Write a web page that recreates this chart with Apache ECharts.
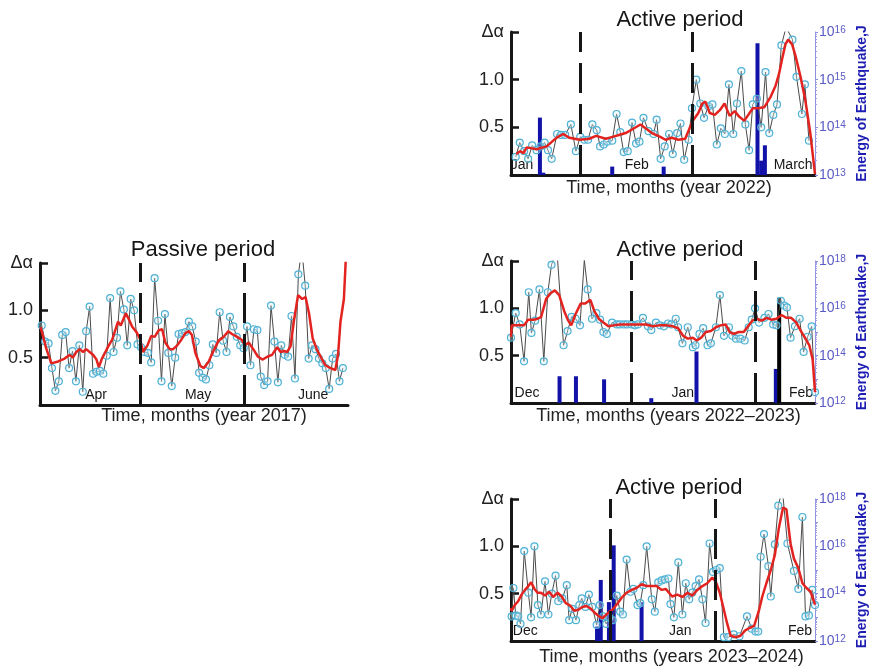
<!DOCTYPE html>
<html>
<head>
<meta charset="utf-8">
<title>Δα – passive and active periods</title>
<script src="https://cdn.jsdelivr.net/npm/echarts@6.0.0/dist/echarts.min.js"></script>
<style>
  html, body { margin: 0; padding: 0; background: #fff; }
  #chart { width: 870px; height: 668px; }
</style>
</head>
<body>
<div id="chart"></div>
<script>
// values; x is in days from the left edge of each panel

// passive period, 2017 (one point per day)
const passiveGray = [0.84,0.67,0.65,0.39,0.15,0.25,0.74,0.77,0.39,0.57,0.25,0.63,0.14,0.78,1.04,0.33,0.35,0.36,0.33,0.52,
  1.13,0.56,0.71,1.20,1.01,0.63,1.12,1.00,0.64,0.61,0.56,0.55,0.45,1.34,0.89,0.25,0.96,0.55,0.20,0.50,
  0.75,0.76,0.77,0.88,0.83,0.67,0.34,0.29,0.27,0.42,0.64,0.55,0.98,0.68,0.56,0.93,0.83,0.72,0.63,0.60,
  0.83,0.42,0.80,0.79,0.30,0.21,0.25,1.05,0.67,0.24,0.63,0.53,0.51,0.94,0.28,1.38,1.65,1.26,0.49,0.63,
  0.59,0.49,0.44,0.39,0.17,0.49,0.54,0.25,0.39];
const passiveRed = [[0.2,0.82],[1.8,0.60],[3.3,0.44],[5.3,0.46],[7.2,0.49],[8.7,0.53],[9.6,0.50],[10.6,0.56],[11.6,0.59],
  [12.6,0.56],[13.5,0.59],[14.5,0.56],[15.5,0.53],[16.5,0.48],[17.2,0.40],[18.1,0.49],[19.1,0.56],[20.1,0.63],
  [21.1,0.69],[22,0.79],[22.8,0.88],[23.6,0.84],[24.4,0.91],[25.1,0.97],[25.9,0.91],[26.9,0.83],[28.2,0.77],
  [29.2,0.70],[30.1,0.56],[31.4,0.63],[32.5,0.73],[33.5,0.72],[34.7,0.79],[35.7,0.80],[36.6,0.66],[37.9,0.59],
  [38.9,0.59],[40.1,0.63],[41.3,0.69],[42.5,0.76],[43.5,0.78],[44.4,0.74],[45.4,0.55],[46.9,0.41],[47.9,0.39],
  [49.3,0.46],[50.8,0.58],[52.2,0.68],[53.7,0.72],[55,0.78],[56.1,0.75],[57.6,0.72],[58.9,0.69],[59.9,0.63],
  [61,0.66],[62.5,0.58],[63.7,0.51],[65.1,0.48],[66.4,0.51],[67.8,0.53],[69.3,0.61],[70.3,0.56],[71.3,0.57],
  [72.2,0.56],[73.2,0.62],[74.2,0.89],[75.4,1.16],[76.6,1.12],[77.6,1.14],[78.6,0.97],[79.7,0.70],[81,0.58],
  [82.3,0.49],[83.4,0.42],[84.9,0.39],[86.3,0.37],[87.1,0.53],[87.8,0.88],[88.8,1.12],[89.5,1.65]];
const passiveBounds = [29.2, 59.7];
const passiveMonths = ['Apr', 'May', 'June'];
const passiveMonthDays = [16.4, 46.2, 79.8];

// active period, 2022
const act22Gray = [[1.4,0.19],[2.6,0.34],[3.9,0.25],[5.1,0.17],[6.3,0.31],[7.6,0.26],[8.8,0.30],[10,0.34],[11,0.26],
  [12.1,0.17],[13.7,0.43],[14.9,0.42],[16.1,0.42],[17.8,0.53],[19.3,0.25],[20.6,0.40],[21.8,0.37],[22.9,0.37],
  [24.2,0.53],[25.5,0.47],[26.5,0.30],[27.6,0.32],[28.6,0.35],[30.1,0.36],[31.4,0.64],[32.5,0.45],[33.5,0.24],
  [34.7,0.25],[36,0.55],[37.2,0.33],[38.2,0.35],[39.4,0.60],[40.9,0.46],[42.4,0.43],[43.3,0.58],[44.5,0.17],
  [45.7,0.30],[47,0.43],[48.1,0.22],[49.4,0.44],[50.4,0.54],[51.5,0.16],[52.8,0.37],[53.8,0.70],[55.1,1.0],
  [56.3,0.75],[57.4,0.60],[58.7,0.72],[59.9,0.74],[61.2,0.32],[62.4,0.49],[63.6,0.43],[64.8,0.95],[66.1,0.43],
  [67.2,0.75],[68.5,1.09],[69.7,0.53],[70.8,0.26],[71.9,0.74],[73.1,0.80],[74.4,0.50],[75.7,1.08],[76.8,0.44],
  [78,0.63],[79.1,0.74],[80.4,1.36],[81.8,1.55],[83.7,1.42],[84.9,1.03],[86.5,0.64],[87.4,0.95],[88.6,0.36]];
const act22Red = [[1.6,0.22],[2.7,0.25],[3.7,0.23],[4.7,0.29],[7.6,0.27],[10.6,0.30],[13.5,0.39],[15.5,0.43],[17.4,0.39],
  [20.4,0.37],[23.3,0.38],[25.3,0.41],[28.2,0.38],[30.2,0.40],[32.1,0.42],[34.1,0.44],[36.1,0.48],[38.5,0.53],
  [40,0.49],[41.9,0.44],[44.4,0.40],[45.9,0.37],[47.8,0.39],[49.8,0.37],[51.8,0.38],[53.9,0.56],[55.7,0.65],
  [56.9,0.75],[57.8,0.77],[59.1,0.65],[60.6,0.63],[62.1,0.68],[63.5,0.75],[65,0.62],[66.5,0.67],[67.9,0.61],
  [69.4,0.57],[71.9,0.70],[73.3,0.70],[75.3,0.71],[77.2,0.82],[78.7,0.94],[79.7,1.06],[80.7,1.23],[81.6,1.37],
  [82.4,1.42],[83.6,1.37],[84.6,1.25],[86.1,1.03],[87.5,0.79],[89,0.44],[90.4,0.01]];
const act22Quakes = [[8.6,1.6e14],[9.6,1.12e13],[30.1,1.5e13],[45.4,1.5e13],[73.3,5.8e15],[74.4,2e13],[75.5,4.2e13]];
const act22Bounds = [20.6, 54];
const act22Months = ['Jan', 'Feb', 'March'];
const act22MonthDays = [3.3, 37.4, 83.9];

// active period, 2022-2023
const act23Gray = [[0,0.69],[1.4,0.95],[2.6,0.83],[3.9,0.44],[5.3,1.17],[6.1,0.74],[7.2,0.87],[8.5,1.20],[9.8,0.44],
  [11,1.17],[12.1,1.46],[13.7,1.62],[15.7,0.61],[16.9,0.76],[18.1,0.91],[19.3,0.89],[20.6,0.82],[21.9,1.51],
  [22.9,1.20],[24.2,0.89],[25.5,0.95],[26.6,0.88],[27.6,0.75],[28.6,0.73],[30.2,0.85],[31.6,0.83],[32.5,0.83],
  [33.7,0.83],[34.7,0.83],[36,0.83],[37,0.82],[37.9,0.83],[39.4,0.90],[40.9,0.81],[41.9,0.77],[43.3,0.85],
  [44.5,0.82],[45.7,0.81],[46.9,0.84],[47.9,0.83],[49.2,0.89],[49.9,0.80],[51.2,0.63],[52.8,0.80],[54.3,0.59],
  [55.1,0.61],[56.3,0.73],[57.4,0.79],[58.7,0.61],[59.7,0.63],[61.2,0.80],[62.4,1.14],[63.6,0.71],[65.1,0.80],
  [66.1,0.71],[67.2,0.68],[68.5,0.68],[69.8,0.66],[71,0.80],[71.9,0.88],[72.9,1.0],[74.1,0.85],[75.7,0.90],
  [76.9,0.94],[78.3,0.83],[79.3,0.82],[80.6,1.08],[81.6,1.03],[82.4,1.01],[83.5,0.69],[84.8,0.81],[86.2,0.89],
  [87.4,0.54],[88.6,0.70],[89.8,0.81],[90.8,0.115]];
const act23Red = [[0,0.70],[0.2,0.82],[2.1,0.82],[3.9,0.82],[5.1,0.88],[6.6,0.88],[8,0.89],[9,0.91],[10.5,1.10],
  [11.8,1.16],[13.1,1.19],[14.4,1.14],[15.9,0.97],[17.1,0.87],[18,0.82],[19.3,0.94],[20.8,1.05],[22.2,1.05],
  [23.7,1.09],[24.9,0.97],[26.2,0.89],[27.6,0.85],[29.1,0.81],[30.6,0.82],[32.5,0.83],[34.5,0.83],[36.5,0.83],
  [38.4,0.83],[40.4,0.83],[42.4,0.81],[44.3,0.82],[46.5,0.82],[48.4,0.81],[49.9,0.79],[51.4,0.71],[52.8,0.68],
  [54.3,0.69],[55.5,0.66],[56.8,0.69],[58.2,0.75],[59.7,0.76],[61.2,0.80],[62.6,0.82],[64.1,0.83],[65.3,0.75],
  [66.6,0.73],[68,0.75],[69.5,0.75],[70.8,0.81],[72.1,0.87],[73.4,0.89],[74.9,0.87],[76.4,0.90],[77.8,0.88],
  [79.3,0.89],[80.8,0.93],[82.2,0.90],[83.7,0.90],[85.2,0.85],[86.6,0.76],[87.8,0.69],[89.1,0.61],[90.1,0.46],
  [90.8,0.115]];
const act23Quakes = [[14.5,1.35e13],[19.4,1.35e13],[27.8,1e13],[41.9,1.6e12],[55.4,1.5e14],[79.1,2.75e13]];
const act23MainShock = [[80.1,2.8e16]];
const act23Bounds = [36, 72.9];
const act23Months = ['Dec', 'Jan', 'Feb'];
const act23MonthDays = [4.8, 51.3, 86.6];

// active period, 2023-2024
const act24Gray = [[0.2,0.26],[0.7,0.56],[1.4,0.27],[2.1,0.26],[2.8,0.18],[3.9,0.95],[5.1,0.51],[5.9,0.25],[6.9,1.0],
  [7.9,0.38],[8.8,0.28],[10,0.63],[11,0.28],[12,0.50],[13.1,0.69],[13.9,0.42],[15.1,0.45],[16.4,0.59],[17.1,0.22],
  [18,0.34],[19.1,0.22],[20.1,0.38],[20.8,0.45],[21.9,0.36],[22.9,0.49],[23.9,0.36],[25.2,0.17],[26.1,0.38],
  [27.1,0.26],[28,0.18],[28.9,0.25],[29.9,0.22],[31.1,0.48],[32.1,0.31],[32.9,0.28],[34,0.86],[35.1,0.52],
  [36,0.55],[37.2,0.38],[38,0.40],[38.9,0.59],[39.9,1.0],[41.4,0.44],[42.3,0.31],[43.3,0.62],[44.3,0.64],
  [45.3,0.65],[46.3,0.66],[46.9,0.39],[47.9,0.25],[49.2,0.83],[50.4,0.28],[51.4,0.61],[52.4,0.44],[53.3,0.51],
  [54.3,0.58],[55.3,0.65],[56.3,0.44],[57.2,0.19],[58.4,1.03],[59.4,0.73],[60.4,0.75],[61.4,0.77],[62.6,0.04],
  [63.9,0.04],[65.5,0.07],[67.2,0.05],[69.4,0.26],[70.8,0.13],[71.9,0.10],[72.7,0.10],[73.4,0.89],[74.4,1.13],
  [75.7,0.79],[76.4,0.47],[77.6,1.02],[78.6,1.43],[79.8,1.6],[81.3,1.03],[83.2,0.74],[84.5,0.55],[85.7,1.31],
  [86.6,0.26],[87.6,0.27],[88.6,0.54],[89.4,0.38]];
const act24Red = [[0,0.35],[0.2,0.32],[1.2,0.385],[2.1,0.42],[3.1,0.49],[4.1,0.54],[5.1,0.58],[5.9,0.62],[6.9,0.55],
  [7.8,0.51],[8.8,0.51],[10,0.48],[11.2,0.52],[12.4,0.465],[13.7,0.51],[14.9,0.47],[16.1,0.40],[17.4,0.375],
  [18.6,0.32],[19.8,0.33],[21,0.36],[22.2,0.37],[23.5,0.34],[24.9,0.29],[25.9,0.26],[26.9,0.24],[27.8,0.27],
  [28.8,0.305],[29.8,0.33],[31.1,0.385],[32.5,0.455],[34,0.51],[35.5,0.54],[36.9,0.56],[38.4,0.60],[39.9,0.58],
  [41.4,0.58],[42.8,0.58],[44.3,0.54],[45.5,0.55],[46,0.54],[47.4,0.47],[48.9,0.49],[50.4,0.465],[51.9,0.51],
  [53.3,0.48],[54.8,0.54],[56.3,0.58],[57.7,0.61],[59.2,0.67],[60.2,0.63],[61.4,0.51],[62.6,0.33],[63.6,0.18],
  [64.6,0.055],[66.1,0.04],[67.5,0.055],[68.8,0.11],[70.2,0.14],[71.5,0.16],[72.9,0.32],[73.9,0.47],[75.1,0.61],
  [76.4,0.75],[77.6,0.91],[78.8,1.20],[80,1.41],[81,1.39],[82.2,1.03],[83.2,0.87],[84.5,0.77],[85.7,0.61],
  [86.9,0.56],[88.1,0.52],[89.4,0.385]];
const act24Quakes = [[25.3,4.1e12],[26.4,3.8e14],[28.8,4.4e13],[30.2,1.1e16],[38.4,4.4e13]];
const act24Bounds = [29.1, 60.2];
const act24Months = ['Dec', 'Jan', 'Feb'];
const act24MonthDays = [4.2, 49.8, 85];

const FONT = "'Liberation Sans', Arial, sans-serif";
const INK = '#161616';
const ENERGY = '#1d1db4';
const ENERGY_AXIS = '#5a5ac6';

const chart = echarts.init(document.getElementById('chart'), null, { renderer: 'canvas' });

function makeXAxis(grid, max, name, months, days, padLeft, gap) {
  return {
    type: 'value', gridIndex: grid, min: 0, max: max,
    axisLine: { onZero: false, lineStyle: { color: INK, width: 3 } },
    axisTick: { show: false },
    splitLine: { show: false },
    axisLabel: {
      inside: true, margin: 3, customValues: days,
      fontFamily: FONT, fontSize: 14, color: INK,
      formatter: function (v) {
        const i = days.findIndex(d => Math.abs(d - v) < 1e-6);
        return i >= 0 ? months[i] : '';
      }
    },
    name: name, nameLocation: 'middle', nameGap: gap,
    nameTextStyle: { fontFamily: FONT, fontSize: 18, color: '#222', verticalAlign: 'top', padding: [0, 0, 0, padLeft] }
  };
}

function makeLeftAxis(grid) {
  return {
    type: 'value', gridIndex: grid, min: 0, max: 1.5, position: 'left',
    axisLine: { show: true, onZero: false, lineStyle: { color: INK, width: 3 } },
    axisTick: { show: true, inside: true, length: 8, customValues: [0.5, 1, 1.5], lineStyle: { color: INK, width: 2.5 } },
    axisLabel: {
      customValues: [0.5, 1], margin: 7, fontFamily: FONT, fontSize: 18, color: '#222',
      formatter: v => v.toFixed(1)
    },
    splitLine: { show: false },
    name: 'Δα', nameLocation: 'end', nameGap: 0,
    nameTextStyle: { fontFamily: FONT, fontSize: 18, color: '#222', align: 'right', verticalAlign: 'middle', padding: [0, 7, 0, 0] }
  };
}

function makeEnergyAxis(grid, min, max, every) {
  return {
    type: 'log', logBase: 10, gridIndex: grid, min: min, max: max, position: 'right',
    axisLine: { show: true, onZero: false, lineStyle: { color: '#8f8fe0', width: 1 } },
    axisTick: { show: true, length: 3, lineStyle: { color: '#8f8fe0' } },
    minorTick: { show: true, splitNumber: 9, length: 2, lineStyle: { color: '#a0a0ea' } },
    splitLine: { show: false },
    axisLabel: {
      margin: 4,
      formatter: function (v) {
        const e = Math.round(Math.log10(v));
        if ((e - Math.round(Math.log10(min))) % every !== 0) return '';
        return '{b|10}{s|' + e + '}';
      },
      rich: {
        b: { fontFamily: FONT, fontSize: 14, color: ENERGY_AXIS },
        s: { fontFamily: FONT, fontSize: 10, color: ENERGY_AXIS, verticalAlign: 'top' }
      }
    },
    name: 'Energy of Earthquake,J', nameLocation: 'middle', nameRotate: 90, nameGap: 40,
    nameTextStyle: { fontFamily: FONT, fontSize: 14, fontWeight: 'bold', color: ENERGY }
  };
}

function makeSeries(xIdx, yIdx, gray, red, bounds) {
  return [
    {
      type: 'line', xAxisIndex: xIdx, yAxisIndex: yIdx, data: gray, z: 2,
      symbol: 'circle', symbolSize: 7, showAllSymbol: true,
      lineStyle: { color: '#4a4a4a', width: 1 },
      itemStyle: { color: 'rgba(215,240,250,0.35)', borderColor: '#4fb1d4', borderWidth: 1.2 },
      markLine: {
        silent: true, symbol: ['none', 'none'], label: { show: false },
        lineStyle: { color: INK, width: 3, type: [30, 11] },
        data: bounds.map(d => ({ xAxis: d }))
      }
    },
    {
      type: 'line', xAxisIndex: xIdx, yAxisIndex: yIdx, data: red, z: 3,
      showSymbol: false, lineStyle: { color: '#e3231f', width: 2.5 }
    }
  ];
}

function makeBars(xIdx, yIdx, quakes, mainShock) {
  const items = quakes.map(q => ({ value: q }));
  (mainShock || []).forEach(q => items.push({ value: q, itemStyle: { color: '#000' } }));
  return {
    type: 'bar', xAxisIndex: xIdx, yAxisIndex: yIdx, data: items, z: 1,
    barWidth: 4, clip: true, itemStyle: { color: '#1212a8' }
  };
}

const passivePoints = passiveGray.map((v, i) => [i + 0.5, v]);

const option = {
  animation: false,
  backgroundColor: '#fff',
  textStyle: { fontFamily: FONT },
  grid: [
    { left: 40, top: 263, width: 308, height: 142 },
    { left: 511, top: 32, width: 307, height: 143 },
    { left: 511, top: 261, width: 308, height: 142 },
    { left: 511, top: 499, width: 304, height: 142 }
  ],
  xAxis: [
    makeXAxis(0, 90, 'Time, months (year 2017)', passiveMonths, passiveMonthDays, 20, 2),
    makeXAxis(1, 90.4, 'Time, months (year 2022)', act22Months, act22MonthDays, 12, 4),
    makeXAxis(2, 90.8, 'Time, months (years 2022–2023)', act23Months, act23MonthDays, 11, 4),
    makeXAxis(3, 89.4, 'Time, months (years 2023–2024)', act24Months, act24MonthDays, 17, 7)
  ],
  yAxis: [
    makeLeftAxis(0),
    makeLeftAxis(1), makeEnergyAxis(1, 1e13, 1e16, 1),
    makeLeftAxis(2), makeEnergyAxis(2, 1e12, 1e18, 2),
    makeLeftAxis(3), makeEnergyAxis(3, 1e12, 1e18, 2)
  ],
  graphic: [
    ['Passive period', 203, 250],
    ['Active period', 680, 20],
    ['Active period', 680, 250],
    ['Active period', 679, 488]
  ].map(t => ({
    type: 'text', x: t[1], y: t[2], silent: true,
    style: {
      text: t[0], font: '22px ' + FONT, fill: INK,
      align: 'center', verticalAlign: 'middle', textAlign: 'center', textVerticalAlign: 'middle'
    }
  })),
  series: [
    makeBars(1, 2, act22Quakes),
    makeBars(2, 4, act23Quakes, act23MainShock),
    makeBars(3, 6, act24Quakes),
    ...makeSeries(0, 0, passivePoints, passiveRed, passiveBounds),
    ...makeSeries(1, 1, act22Gray, act22Red, act22Bounds),
    ...makeSeries(2, 3, act23Gray, act23Red, act23Bounds),
    ...makeSeries(3, 5, act24Gray, act24Red, act24Bounds)
  ]
};

chart.setOption(option);
</script>
</body>
</html>
